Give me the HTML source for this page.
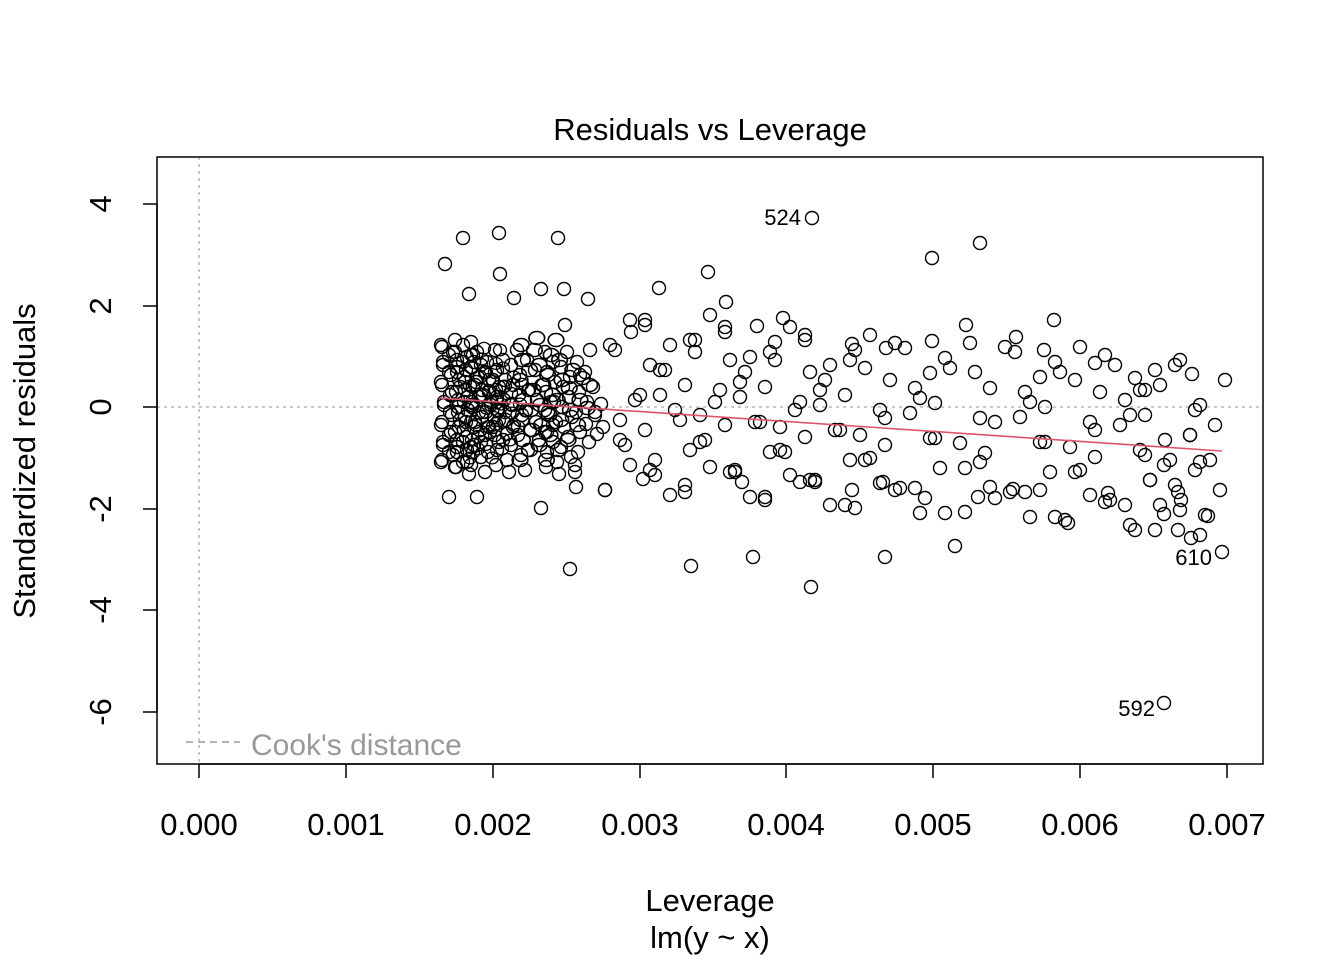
<!DOCTYPE html>
<html><head><meta charset="utf-8"><style>
html,body{margin:0;padding:0;background:#fff;}
svg{display:block;font-family:"Liberation Sans",Arial,sans-serif;}
</style></head><body>
<svg width="1344" height="960" xmlns="http://www.w3.org/2000/svg">
<defs>
<g id="A">
<circle cx="0" cy="-60" r="6.5"/><circle cx="2" cy="-40" r="6.5"/><circle cx="1" cy="-20" r="6.5"/><circle cx="3" cy="0" r="6.5"/><circle cx="0" cy="20" r="6.5"/><circle cx="2" cy="40" r="6.5"/><circle cx="1" cy="55" r="6.5"/><circle cx="8" cy="-50" r="6.5"/><circle cx="10" cy="-30" r="6.5"/><circle cx="9" cy="-10" r="6.5"/><circle cx="11" cy="10" r="6.5"/><circle cx="8" cy="30" r="6.5"/><circle cx="12" cy="50" r="6.5"/><circle cx="16" cy="-45" r="6.5"/><circle cx="18" cy="-25" r="6.5"/><circle cx="17" cy="-5" r="6.5"/><circle cx="19" cy="15" r="6.5"/><circle cx="16" cy="35" r="6.5"/><circle cx="22" cy="-60" r="6.5"/><circle cx="25" cy="-35" r="6.5"/><circle cx="24" cy="-15" r="6.5"/><circle cx="27" cy="5" r="6.5"/><circle cx="23" cy="25" r="6.5"/><circle cx="26" cy="45" r="6.5"/><circle cx="32" cy="-50" r="6.5"/><circle cx="34" cy="-20" r="6.5"/><circle cx="31" cy="0" r="6.5"/><circle cx="35" cy="20" r="6.5"/><circle cx="33" cy="40" r="6.5"/><circle cx="40" cy="-40" r="6.5"/><circle cx="42" cy="-10" r="6.5"/><circle cx="41" cy="12" r="6.5"/><circle cx="44" cy="30" r="6.5"/><circle cx="48" cy="-25" r="6.5"/><circle cx="50" cy="0" r="6.5"/><circle cx="52" cy="22" r="6.5"/><circle cx="56" cy="-8" r="6.5"/><circle cx="58" cy="15" r="6.5"/><circle cx="30" cy="60" r="6.5"/><circle cx="14" cy="62" r="6.5"/>
</g>
<g id="B">
<circle cx="5" cy="-80" r="6.5"/><circle cx="20" cy="-30" r="6.5"/><circle cx="35" cy="10" r="6.5"/><circle cx="50" cy="-60" r="6.5"/><circle cx="65" cy="40" r="6.5"/><circle cx="80" cy="-10" r="6.5"/><circle cx="95" cy="70" r="6.5"/><circle cx="15" cy="60" r="6.5"/><circle cx="45" cy="85" r="6.5"/><circle cx="70" cy="-85" r="6.5"/><circle cx="90" cy="-40" r="6.5"/><circle cx="30" cy="-55" r="6.5"/><circle cx="60" cy="15" r="6.5"/><circle cx="85" cy="25" r="6.5"/>
</g>
</defs>
<rect x="0" y="0" width="1344" height="960" fill="#fff"/>
<line x1="199" y1="157" x2="199" y2="764" stroke="#aaa" stroke-width="1.3" stroke-dasharray="3,4"/>
<line x1="157" y1="407" x2="1263" y2="407" stroke="#aaa" stroke-width="1.3" stroke-dasharray="3,4"/>
<g fill="none" stroke="#000" stroke-width="1.4">
<use href="#A" x="441" y="405"/>
<use href="#A" transform="translate(441,402) scale(1,-1)"/>
<use href="#A" x="455" y="412"/>
<use href="#A" transform="translate(470,404) scale(1,-0.9)"/>
<use href="#A" x="495" y="410"/>
<use href="#A" transform="translate(520,400) scale(1.2,-1)"/>
<use href="#A" x="545" y="412"/>
<use href="#B" x="560" y="405"/>
<use href="#B" transform="translate(600,410) scale(1,-1)"/>
<use href="#B" x="640" y="400"/>
<use href="#B" transform="translate(680,412) scale(1,-1)"/>
<use href="#B" x="720" y="412"/>
<use href="#B" transform="translate(760,420) scale(1,-1)"/>
<use href="#B" x="800" y="420"/>
<use href="#B" transform="translate(850,428) scale(1,-1)"/>
<use href="#B" x="900" y="428"/>
<use href="#B" transform="translate(960,432) scale(1,-1)"/>
<use href="#B" x="1010" y="432"/>
<use href="#B" transform="translate(1060,440) scale(1,-1)"/>
<use href="#B" x="1110" y="445"/>
<use href="#B" transform="translate(1130,450) scale(1,-1)"/>
<circle cx="445" cy="264" r="6.5"/><circle cx="469" cy="294" r="6.5"/><circle cx="500" cy="274" r="6.5"/><circle cx="514" cy="298" r="6.5"/><circle cx="541" cy="289" r="6.5"/><circle cx="564" cy="289" r="6.5"/><circle cx="588" cy="299" r="6.5"/><circle cx="631" cy="332" r="6.5"/><circle cx="659" cy="288" r="6.5"/><circle cx="708" cy="272" r="6.5"/><circle cx="726" cy="302" r="6.5"/><circle cx="757" cy="326" r="6.5"/><circle cx="783" cy="318" r="6.5"/><circle cx="852" cy="344" r="6.5"/><circle cx="886" cy="348" r="6.5"/><circle cx="932" cy="341" r="6.5"/><circle cx="966" cy="325" r="6.5"/><circle cx="1016" cy="337" r="6.5"/><circle cx="1044" cy="350" r="6.5"/><circle cx="1054" cy="320" r="6.5"/><circle cx="1095" cy="363" r="6.5"/><circle cx="1135" cy="378" r="6.5"/><circle cx="1192" cy="374" r="6.5"/>
<circle cx="449" cy="497" r="6.5"/><circle cx="477" cy="497" r="6.5"/><circle cx="541" cy="508" r="6.5"/><circle cx="576" cy="487" r="6.5"/><circle cx="643" cy="479" r="6.5"/><circle cx="742" cy="482" r="6.5"/><circle cx="800" cy="482" r="6.5"/><circle cx="852" cy="490" r="6.5"/><circle cx="883" cy="482" r="6.5"/><circle cx="925" cy="498" r="6.5"/><circle cx="978" cy="497" r="6.5"/><circle cx="1013" cy="489" r="6.5"/><circle cx="1040" cy="490" r="6.5"/><circle cx="1068" cy="523" r="6.5"/><circle cx="1108" cy="493" r="6.5"/><circle cx="1164" cy="514" r="6.5"/><circle cx="1178" cy="530" r="6.5"/><circle cx="1208" cy="516" r="6.5"/><circle cx="1191" cy="538" r="6.5"/><circle cx="1181" cy="500" r="6.5"/><circle cx="1178" cy="492" r="6.5"/><circle cx="1164" cy="465" r="6.5"/><circle cx="1200" cy="462" r="6.5"/>
<circle cx="812" cy="218" r="6.5"/><circle cx="1222" cy="552" r="6.5"/><circle cx="1164" cy="703" r="6.5"/><circle cx="570" cy="569" r="6.5"/><circle cx="811" cy="587" r="6.5"/><circle cx="691" cy="566" r="6.5"/><circle cx="753" cy="557" r="6.5"/><circle cx="885" cy="557" r="6.5"/><circle cx="955" cy="546" r="6.5"/><circle cx="980" cy="243" r="6.5"/><circle cx="932" cy="258" r="6.5"/><circle cx="499" cy="233" r="6.5"/><circle cx="558" cy="238" r="6.5"/><circle cx="463" cy="238" r="6.5"/>
</g>
<line x1="440" y1="398" x2="1222" y2="451" stroke="#DF536B" stroke-width="1.6"/>
<text x="801" y="225" font-size="22" text-anchor="end">524</text>
<text x="1212" y="565" font-size="22" text-anchor="end">610</text>
<text x="1155" y="716" font-size="22" text-anchor="end">592</text>
<line x1="186" y1="742" x2="240" y2="742" stroke="#999" stroke-width="1.5" stroke-dasharray="7,5"/>
<text x="251" y="755" font-size="30" fill="#999">Cook's distance</text>
<rect x="157" y="157" width="1106" height="607" fill="none" stroke="#000" stroke-width="1.5"/>
<g stroke="#000" stroke-width="1.5">
<line x1="199" y1="764" x2="1227" y2="764"/>
<line x1="199" y1="764" x2="199" y2="778"/><line x1="346" y1="764" x2="346" y2="778"/>
<line x1="493" y1="764" x2="493" y2="778"/><line x1="640" y1="764" x2="640" y2="778"/>
<line x1="786" y1="764" x2="786" y2="778"/><line x1="933" y1="764" x2="933" y2="778"/>
<line x1="1080" y1="764" x2="1080" y2="778"/><line x1="1227" y1="764" x2="1227" y2="778"/>
<line x1="157" y1="204" x2="157" y2="712"/>
<line x1="143" y1="204" x2="157" y2="204"/><line x1="143" y1="306" x2="157" y2="306"/>
<line x1="143" y1="407" x2="157" y2="407"/><line x1="143" y1="509" x2="157" y2="509"/>
<line x1="143" y1="610" x2="157" y2="610"/><line x1="143" y1="712" x2="157" y2="712"/>
</g>
<g font-size="31" text-anchor="middle">
<text x="199" y="835">0.000</text><text x="346" y="835">0.001</text><text x="493" y="835">0.002</text>
<text x="640" y="835">0.003</text><text x="786" y="835">0.004</text><text x="933" y="835">0.005</text>
<text x="1080" y="835">0.006</text><text x="1227" y="835">0.007</text>
<text transform="translate(111,204) rotate(-90)">4</text>
<text transform="translate(111,306) rotate(-90)">2</text>
<text transform="translate(111,407) rotate(-90)">0</text>
<text transform="translate(111,509) rotate(-90)">-2</text>
<text transform="translate(111,610) rotate(-90)">-4</text>
<text transform="translate(111,712) rotate(-90)">-6</text>
<text x="710" y="140">Residuals vs Leverage</text>
<text x="710" y="911">Leverage</text>
<text x="710" y="948">lm(y ~ x)</text>
<text transform="translate(35,461) rotate(-90)">Standardized residuals</text>
</g>
</svg>
</body></html>
